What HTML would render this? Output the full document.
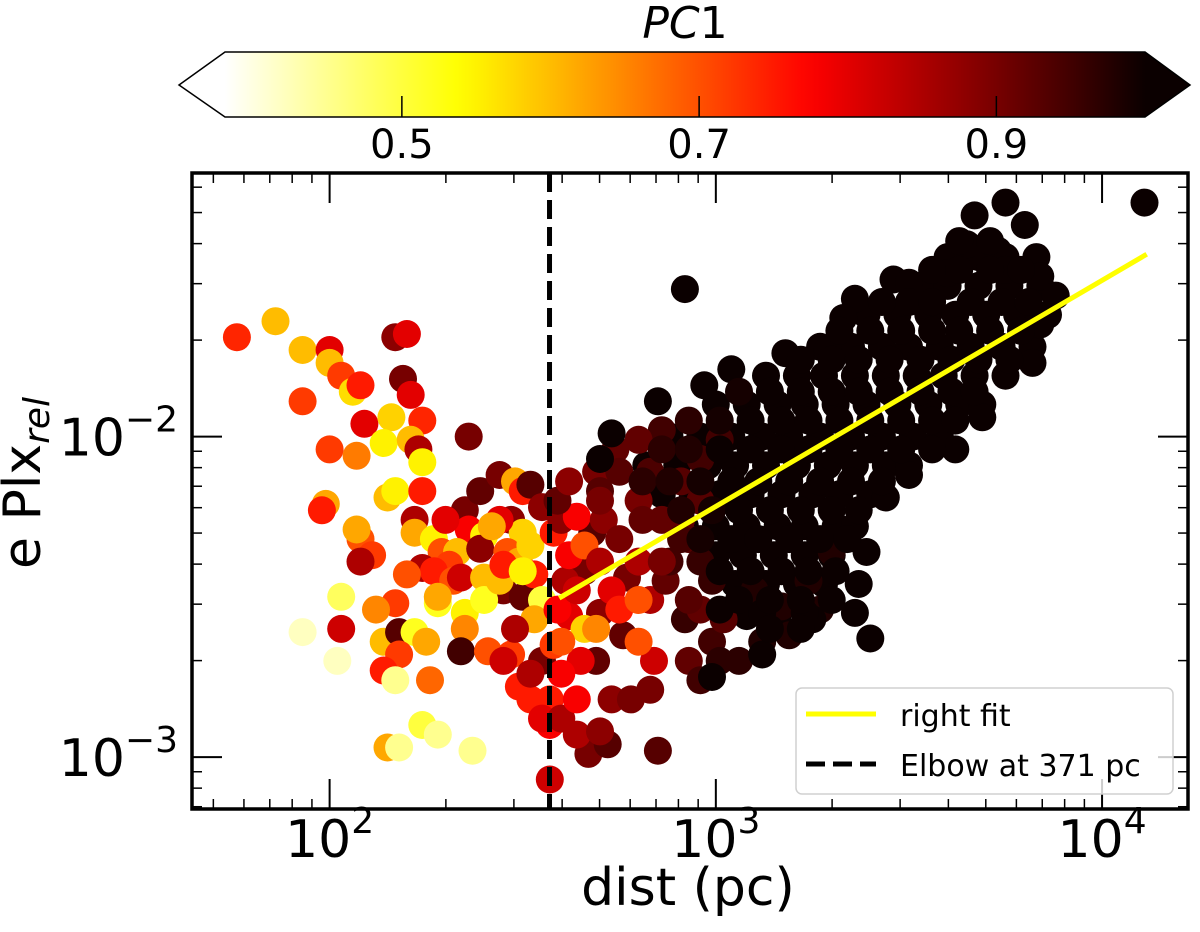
<!DOCTYPE html>
<html><head><meta charset="utf-8"><style>
html,body{margin:0;padding:0;background:#fff;}
svg text{font-family:"DejaVu Sans","Liberation Sans",sans-serif;}
</style></head><body>
<svg id="fig" width="1200" height="927" viewBox="0 0 1200 927" xmlns="http://www.w3.org/2000/svg">
<defs>
<linearGradient id="cbgrad" x1="0" x2="1" y1="0" y2="0"></linearGradient>
<clipPath id="plotclip"><rect x="192" y="173" width="996" height="636"/></clipPath>
</defs>
<g id="colorbar"></g>
<g id="points" clip-path="url(#plotclip)"></g>
<g id="lines" clip-path="url(#plotclip)"></g>
<g id="axes"></g>
<g id="legend"></g>
</svg>
<script>
// ---- data (log10 distance in pc, log10 relative parallax error, PC1) ----
const cloudLogDist = [
3.60,3.68,3.75,3.83,
3.53,3.60,3.68,3.76,3.84,
3.39,3.47,3.55,3.62,3.70,3.78,3.86,
3.27,3.35,3.43,3.50,3.58,3.66,3.74,3.82,
3.13,3.21,3.28,3.36,3.44,3.52,3.59,3.67,3.75,
3.00,3.08,3.16,3.23,3.31,3.39,3.47,3.55,3.63,3.69,
2.88,2.96,3.04,3.12,3.19,3.27,3.35,3.43,3.51,3.58,
2.82,2.90,2.98,3.05,3.13,3.21,3.29,3.36,3.44,3.50,
2.86,2.94,3.01,3.09,3.17,3.25,3.32,3.40,
2.92,3.00,3.08,3.16,3.23,3.31,3.36,
3.00,3.07,3.15,3.23,3.30,
3.05,3.13,3.21,3.28,
3.08,3.16,3.24
];
const cloudLogErr = [
-1.44,-1.44,-1.44,-1.44,
-1.53,-1.53,-1.53,-1.53,-1.53,
-1.62,-1.62,-1.62,-1.62,-1.62,-1.62,-1.62,
-1.72,-1.72,-1.72,-1.72,-1.72,-1.72,-1.72,-1.72,
-1.81,-1.81,-1.81,-1.81,-1.81,-1.81,-1.81,-1.81,-1.81,
-1.90,-1.90,-1.90,-1.90,-1.90,-1.90,-1.90,-1.90,-1.90,-1.90,
-2.00,-2.00,-2.00,-2.00,-2.00,-2.00,-2.00,-2.00,-2.00,-2.00,
-2.09,-2.09,-2.09,-2.09,-2.09,-2.09,-2.09,-2.09,-2.09,-2.09,
-2.18,-2.18,-2.18,-2.18,-2.18,-2.18,-2.18,-2.18,
-2.28,-2.28,-2.28,-2.28,-2.28,-2.28,-2.28,
-2.37,-2.37,-2.37,-2.37,-2.37,
-2.46,-2.46,-2.46,-2.46,
-2.56,-2.56,-2.56
];
const cloudPc1 = 1.0;
const logDist = [
1.76,1.86,1.93,2.00,2.00,2.03,2.06,2.08,1.93,2.17,2.20,2.19,2.21,2.09,2.16,2.24,2.14,2.00,2.07,2.21,2.23,2.36,2.24,1.99,1.98,
2.08,2.07,2.15,2.17,2.24,2.22,2.11,2.08,2.22,2.27,2.29,2.24,2.35,2.36,2.33,2.31,2.27,2.32,2.39,2.44,2.48,2.50,2.52,2.47,2.50,
2.40,2.44,2.39,2.46,2.49,2.52,2.45,2.50,2.53,2.34,2.40,2.55,2.53,2.03,1.93,2.03,2.02,2.14,2.17,2.12,2.18,2.22,2.25,2.18,2.14,
2.17,2.26,2.28,2.35,2.35,2.34,2.41,2.40,2.44,2.47,2.49,2.55,2.57,2.57,
2.15,2.18,2.24,2.28,2.37,2.67,2.72,2.85,2.57,2.52,2.55,2.60,2.64,2.70,
2.45,2.42,2.30,2.50,2.58,2.55,2.62,2.48,2.58,2.66,2.70,2.76,2.68,2.77,2.52,2.45,2.28,2.20,
2.59,2.61,2.64,2.62,2.60,2.64,2.59,2.62,2.69,2.71,2.66,2.70,2.73,2.75,2.80,2.80,2.66,2.69,2.69,2.73,2.78,2.83,2.84,2.80,2.65,
2.64,2.60,2.60,2.75,2.83,2.80,2.87,2.88,2.86,2.91,2.93,2.96,2.91,2.96,3.01,2.86,2.80,2.74,2.70,2.92,2.96,2.99,3.02,3.01,3.06,
2.93,2.96,3.12,3.19,3.17,3.27,3.24,3.30,3.10,
2.75,2.83,2.70,2.81,2.91,2.86,2.96,2.93,2.99,
4.11,3.75,3.67,3.80,3.65,3.73,3.60,3.84,3.46,3.50,3.75,3.88,3.36,3.33,2.92,3.84,3.82,3.69,3.62,3.50,3.44,3.39,3.37,3.40,3.36,
3.25,3.23,3.18,3.29,3.04,2.97,2.85,2.73,2.70,2.99,3.12,3.12,3.01,
3.63,3.71,
3.56,3.63,3.71,3.79,
3.43,3.50,3.56,3.66,3.74,3.81,
3.32,3.40,3.48,3.56,3.63,3.71,3.79,
3.22,3.30,3.37,3.45,3.53,3.61,3.68,3.76,
3.06,3.14,3.22,3.30,3.37,3.45,3.53,3.61,3.67,
2.93,3.01,3.09,3.17,3.24,3.32,3.40,3.48,3.56,3.62,
2.86,2.93,3.01,3.09,3.17,3.24,3.32,3.40,3.48,3.56,
2.81,2.88,2.96,3.04,3.11,3.19,3.27,3.35,3.43,
2.91,2.99,3.06,3.14,3.22,3.30,3.37,
2.96,3.04,3.11,3.19,3.27,3.34,
3.01,3.09,3.17,3.24,3.31,
3.06,3.14,3.22,3.30,
3.14,3.22
];
const logErr = [
-1.69,-1.64,-1.73,-1.73,-1.77,-1.81,-1.86,-1.84,-1.89,-1.69,-1.68,-1.82,-1.87,-1.96,-1.94,-1.95,-2.02,-2.04,-2.06,-2.01,-2.04,-2.00,-2.08,-2.21,-2.23,
-2.32,-2.29,-2.19,-2.17,-2.17,-2.26,-2.37,-2.39,-2.30,-2.32,-2.36,-2.41,-2.23,-2.29,-2.36,-2.40,-2.42,-2.45,-2.17,-2.12,-2.14,-2.17,-2.15,-2.26,-2.30,
-2.31,-2.26,-2.35,-2.36,-2.39,-2.34,-2.48,-2.50,-2.43,-2.44,-2.44,-2.51,-2.57,-2.50,-2.61,-2.60,-2.70,-2.64,-2.52,-2.54,-2.61,-2.61,-2.64,-2.68,-2.73,
-2.76,-2.76,-2.52,-2.55,-2.60,-2.67,-2.67,-2.51,-2.45,-2.68,-2.78,-2.70,-2.82,-2.90,
-2.97,-2.97,-2.90,-2.93,-2.98,-2.99,-2.96,-2.98,-3.07,-2.82,-2.88,-2.88,-2.93,-2.92,
-2.40,-2.28,-2.26,-2.42,-2.30,-2.22,-2.56,-2.60,-2.65,-2.42,-2.55,-2.62,-2.30,-2.44,-2.74,-2.70,-2.50,-2.43,
-2.54,-2.45,-2.48,-2.37,-2.26,-2.25,-2.20,-2.14,-2.11,-2.26,-2.34,-2.39,-2.48,-2.32,-2.20,-2.39,-2.60,-2.60,-2.70,-2.82,-2.82,-2.79,-2.70,-2.64,-2.70,
-2.82,-2.64,-2.74,-2.54,-2.51,-2.51,-2.45,-2.39,-2.26,-2.26,-2.32,-2.20,-2.14,-2.07,-2.01,-1.98,-2.01,-2.04,-2.17,-2.57,-2.54,-2.64,-2.57,-2.70,-2.70,
-2.70,-2.76,-2.64,-2.62,-2.53,-2.54,-2.45,-2.36,-2.48,
-2.11,-2.11,-2.20,-2.26,-2.32,-2.39,-2.39,-2.51,-2.45,
-1.27,-1.27,-1.31,-1.34,-1.40,-1.42,-1.49,-1.50,-1.51,-1.52,-1.48,-1.56,-1.57,-1.63,-1.54,-1.65,-1.77,-1.94,-2.04,-2.12,-2.19,-2.36,-2.46,-2.63,-2.55,
-2.57,-2.55,-1.74,-1.73,-1.79,-1.84,-1.89,-1.99,-2.07,-2.75,-2.68,-2.55,-2.54,
-1.39,-1.39,
-1.48,-1.48,-1.48,-1.48,
-1.58,-1.58,-1.58,-1.58,-1.58,-1.58,
-1.67,-1.67,-1.67,-1.67,-1.67,-1.67,-1.67,
-1.76,-1.76,-1.76,-1.76,-1.76,-1.76,-1.76,-1.76,
-1.86,-1.86,-1.86,-1.86,-1.86,-1.86,-1.86,-1.86,-1.86,
-1.95,-1.95,-1.95,-1.95,-1.95,-1.95,-1.95,-1.95,-1.95,-1.95,
-2.04,-2.04,-2.04,-2.04,-2.04,-2.04,-2.04,-2.04,-2.04,-2.04,
-2.14,-2.14,-2.14,-2.14,-2.14,-2.14,-2.14,-2.14,-2.14,
-2.23,-2.23,-2.23,-2.23,-2.23,-2.23,-2.23,
-2.32,-2.32,-2.32,-2.32,-2.32,-2.32,
-2.42,-2.42,-2.42,-2.42,-2.42,
-2.51,-2.51,-2.51,-2.51,
-2.60,-2.60
];
const pc1 = [
.74,.6,.6,.8,.6,.72,.57,.75,.72,.88,.8,.9,.8,.8,.58,.74,.55,.72,.66,.6,.85,.9,.55,.62,.75,
.7,.62,.6,.55,.75,.85,.72,.85,.62,.55,.7,.85,.9,.78,.6,.72,.75,.7,.92,.9,.62,.75,.93,.88,.58,
.55,.8,.88,.7,.62,.58,.9,.92,.75,.82,.6,.5,.62,.48,.42,.82,.42,.6,.72,.65,.93,.52,.62,.72,.75,
.45,.68,.52,.55,.65,.95,.7,.52,.6,.72,.75,.9,.75,.78,
.62,.45,.5,.45,.45,.9,.93,.93,.82,.75,.8,.85,.85,.88,
.75,.62,.8,.55,.75,.88,.8,.85,.72,.9,.88,.92,.93,.9,.85,.82,.62,.7,
.78,.85,.82,.78,.88,.78,.92,.88,.9,.88,.7,.85,.8,.9,.9,.85,.58,.65,.92,.88,.9,.9,.82,.7,.8,
.78,.7,.78,.75,.85,.7,.92,.95,.92,.92,.93,.93,.93,.95,.95,.95,.92,.92,.93,.96,.92,.95,.93,.97,.97,
.92,.95,.98,.98,.98,.98,.98,.98,.98,
.93,.94,.9,.92,.95,.9,.96,.93,.96,
1,1,1,1,1,1,1,1,1,1,1,1,1,1,1,1,1,1,1,1,1,1,1,1,1,
1,1,1,1,1,1,1,1,1,1,1,1,1,
1,1,
1,1,1,1,
1,1,1,1,1,1,
1,1,1,1,1,1,1,
1,1,1,1,1,1,1,1,
.99,1,1,1,1,1,1,1,1,
.97,.99,1,1,1,1,1,1,1,1,
.97,.98,1,1,1,1,1,1,1,1,
.97,.98,.99,1,1,1,1,1,1,
.98,.99,1,1,1,1,1,
.99,1,1,1,1,1,
1,1,1,1,1,
1,1,1,1,
1,1
];
const fitLogDist = [2.60, 4.11];
const fitLogErr = [-2.50, -1.435];
const elbowPc = 371;
const xTickExp = [2, 3, 4];
const yTickExp = [-3, -2];
const cbTicks = [0.5, 0.7, 0.9];
const cbRange = [0.381, 1.0];

// ---- axis functions ----
const PX0=192, PX1=1188, PY0=173, PY1=809;
const XL=[1.6437, 4.2225], YL=[-3.1620, -1.1776];
const sx = ld => PX0 + (ld - XL[0])/(XL[1]-XL[0])*(PX1-PX0);
const sy = le => PY1 - (le - YL[0])/(YL[1]-YL[0])*(PY1-PY0);
const CB0=225, CB1=1145;
const cbx = v => CB0 + (v-cbRange[0])/(cbRange[1]-cbRange[0])*(CB1-CB0);

function hotR(v){
  let t = 1 - Math.min(1, Math.max(0, (v-cbRange[0])/(cbRange[1]-cbRange[0])));
  const r = Math.min(1, Math.max(0, (t-0.0)/0.365*0.9584+0.0416));
  const g = Math.min(1, Math.max(0, (t-0.365)/0.381));
  const b = Math.min(1, Math.max(0, (t-0.746)/0.254));
  const r2 = t<=0 ? 0.0416 : r;
  return `rgb(${Math.round(r2*255)},${Math.round(g*255)},${Math.round(b*255)})`;
}
const NS="http://www.w3.org/2000/svg";
function mk(tag, attrs, parent){
  const e=document.createElementNS(NS,tag);
  for(const k in attrs) e.setAttribute(k, attrs[k]);
  parent.appendChild(e); return e;
}

// ---- colorbar ----
const grad=document.getElementById('cbgrad');
for(let i=0;i<=40;i++){
  const v=cbRange[0]+(cbRange[1]-cbRange[0])*i/40;
  mk('stop',{offset:(i/40).toFixed(3),'stop-color':hotR(v)},grad);
}
const cb=document.getElementById('colorbar');
const lt=mk('polygon',{points:`${CB0},52 179,85 ${CB0},117`,fill:hotR(cbRange[0]-1),stroke:'none'},cb);


const rt=mk('polygon',{points:`${CB1},52 1190,85 ${CB1},117`,fill:hotR(2),stroke:'none'},cb);


const cbr=mk('rect',{x:CB0,y:52,width:CB1-CB0,height:65,fill:'url(#cbgrad)'},cb);


mk('polygon',{points:`${CB0},52 ${CB1},52 1190,85 ${CB1},117 ${CB0},117 179,85`,fill:'none',stroke:'#000','stroke-width':1.5},cb);
cbTicks.forEach(v=>{
  const x=cbx(v);
  mk('line',{x1:x,x2:x,y1:117,y2:96,stroke:'#000','stroke-width':1.5},cb);
  const t=mk('text',{x:x,y:158,'font-size':40,'text-anchor':'middle'},cb);
  t.textContent=v.toFixed(1);
  
  
});
const cbl=mk('text',{x:685,y:38,'font-size':44,'text-anchor':'middle'},cb);
cbl.innerHTML='<tspan font-style="italic">PC</tspan>1';



// ---- points ----
const pg=document.getElementById('points');
for(let i=0;i<cloudLogDist.length;i++){
  const c=mk('circle',{cx:sx(cloudLogDist[i]).toFixed(1),cy:sy(cloudLogErr[i]).toFixed(1),r:14,fill:hotR(cloudPc1)},pg);
  
  
}
for(let i=0;i<logDist.length;i++){
  const c=mk('circle',{cx:sx(logDist[i]).toFixed(1),cy:sy(logErr[i]).toFixed(1),r:14,fill:hotR(pc1[i])},pg);
  
  
}

// ---- lines ----
const lg=document.getElementById('lines');
const fit=mk('line',{x1:sx(fitLogDist[0]),y1:sy(fitLogErr[0]),x2:sx(fitLogDist[1]),y2:sy(fitLogErr[1]),stroke:'#ffff00','stroke-width':5,'stroke-linecap':'square'},lg);


const ex=sx(Math.log10(elbowPc));
const el=mk('line',{x1:ex,x2:ex,y1:PY0,y2:PY1,stroke:'#000','stroke-width':5,'stroke-dasharray':'19 8'},lg);



// ---- axes ----
const ax=document.getElementById('axes');
for(let d=1;d<=4;d++){
  for(let m=1;m<=9;m++){
    const ld=d+Math.log10(m); if(ld<XL[0]||ld>XL[1]) continue;
    const x=sx(ld), L=(m===1)?30:10, w=(m===1)?2:1.5;
    mk('line',{x1:x,x2:x,y1:PY1,y2:PY1-L,stroke:'#000','stroke-width':w},ax);
    mk('line',{x1:x,x2:x,y1:PY0,y2:PY0+L,stroke:'#000','stroke-width':w},ax);
  }
}
for(let d=-4;d<=-1;d++){
  for(let m=1;m<=9;m++){
    const le=d+Math.log10(m); if(le<YL[0]||le>YL[1]) continue;
    const y=sy(le), L=(m===1)?30:10, w=(m===1)?2:1.5;
    mk('line',{x1:PX0,x2:PX0+L,y1:y,y2:y,stroke:'#000','stroke-width':w},ax);
    mk('line',{x1:PX1,x2:PX1-L,y1:y,y2:y,stroke:'#000','stroke-width':w},ax);
  }
}
const fr=mk('rect',{x:PX0,y:PY0,width:PX1-PX0,height:PY1-PY0,fill:'none',stroke:'#000','stroke-width':3.5},ax);


xTickExp.forEach(e=>{
  const t=mk('text',{x:sx(e),y:857,'font-size':52,'text-anchor':'middle'},ax);
  t.innerHTML=`10<tspan font-size="36" dy="-24">${e}</tspan>`;
  
  
});
yTickExp.forEach(e=>{
  const t=mk('text',{x:178,y:sy(e)+19,'font-size':52,'text-anchor':'end'},ax);
  t.innerHTML=`10<tspan font-size="36" dy="-24">\u2212${-e}</tspan>`;
  
  
});
const xl=mk('text',{x:688,y:905,'font-size':52,'text-anchor':'middle'},ax);
xl.textContent='dist (pc)';


const yl=mk('text',{x:0,y:0,'font-size':52,'text-anchor':'middle',transform:'translate(40,483) rotate(-90)'},ax);
yl.innerHTML='e Plx<tspan font-size="36" font-style="italic" dy="9">rel</tspan>';



// ---- legend ----
const lgd=document.getElementById('legend');
mk('rect',{x:796,y:688,width:377,height:106,rx:6,fill:'rgba(255,255,255,0.8)',stroke:'#d0d0d0','stroke-width':1.5},lgd);
mk('line',{x1:806,x2:876,y1:714,y2:714,stroke:'#ffff00','stroke-width':5},lgd);
mk('line',{x1:806,x2:876,y1:764,y2:764,stroke:'#000','stroke-width':5,'stroke-dasharray':'19 8'},lgd);
const l1=mk('text',{x:900,y:726,'font-size':30},lgd); l1.textContent='right fit';


const l2=mk('text',{x:900,y:776,'font-size':30},lgd); l2.textContent='Elbow at 371 pc';


</script>
</body></html>
